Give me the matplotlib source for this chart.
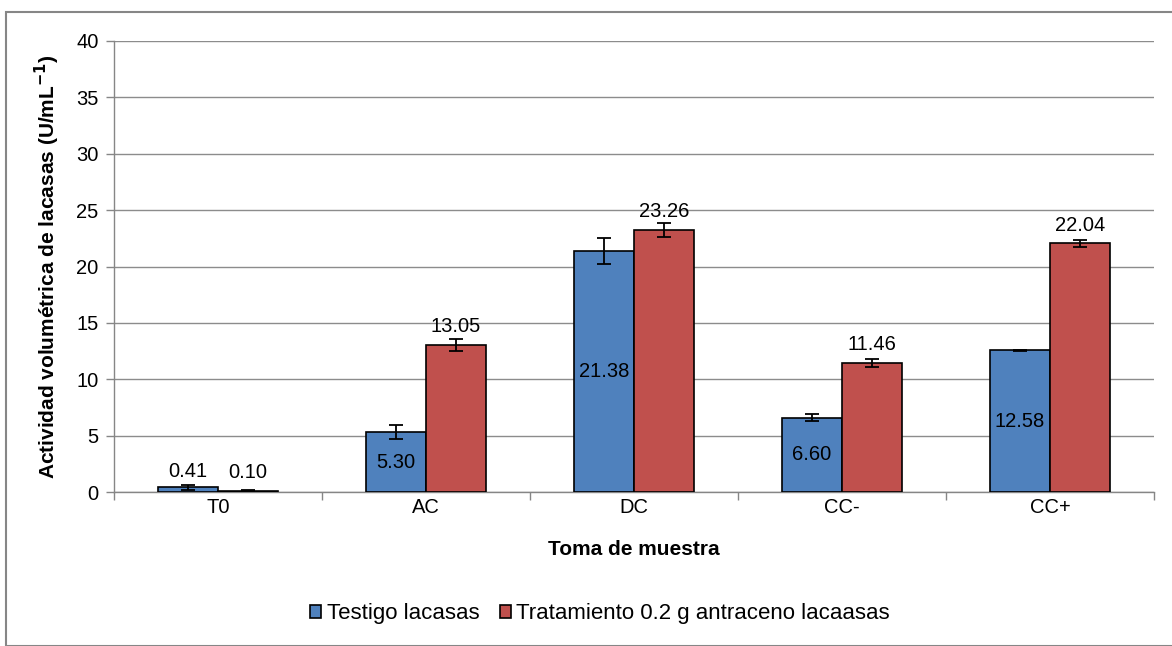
import matplotlib
matplotlib.use("Agg")
import matplotlib.pyplot as plt
from matplotlib.patches import Rectangle
import numpy as np

plt.rcParams['font.family'] = ['Liberation Sans', 'DejaVu Sans']

categories = ["T0", "AC", "DC", "CC-", "CC+"]
testigo = [0.41, 5.30, 21.38, 6.60, 12.58]
testigo_err = [0.2, 0.6, 1.15, 0.3, 0.05]
tratamiento = [0.10, 13.05, 23.26, 11.46, 22.04]
tratamiento_err = [0.05, 0.55, 0.6, 0.35, 0.3]
series_names = ["Testigo lacasas", "Tratamiento 0.2 g antraceno lacaasas"]
yticks = [0, 5, 10, 15, 20, 25, 30, 35, 40]

W, H = 1172, 646
fig = plt.figure(figsize=(W/100, H/100), dpi=100)
ax = fig.add_axes([114/W, 1-492/H, 1040/W, (492-41)/H])

x = np.arange(len(categories))
bw = 0.288
blue = "#4F81BD"
red = "#C0504D"
ax.bar(x - bw/2, testigo, bw, color=blue, edgecolor="black", linewidth=1.2, zorder=3,
       label=series_names[0])
ax.bar(x + bw/2, tratamiento, bw, color=red, edgecolor="black", linewidth=1.2, zorder=3,
       label=series_names[1])
ax.errorbar(x - bw/2, testigo, yerr=testigo_err, fmt="none", ecolor="black",
            elinewidth=1.3, capsize=5, capthick=1.3, zorder=4)
ax.errorbar(x + bw/2, tratamiento, yerr=tratamiento_err, fmt="none", ecolor="black",
            elinewidth=1.3, capsize=5, capthick=1.3, zorder=4)

fs = 14.5
for i, v in enumerate(testigo):
    if v < 2:
        ax.text(x[i] - bw/2, v + testigo_err[i] + 0.35, f"{v:.2f}", ha="center", va="bottom", fontsize=fs)
    else:
        ax.text(x[i] - bw/2, v/2, f"{v:.2f}", ha="center", va="center", fontsize=fs)
for i, v in enumerate(tratamiento):
    ax.text(x[i] + bw/2, v + 0.75, f"{v:.2f}", ha="center", va="bottom", fontsize=fs)

ax.set_xlim(-0.5, len(categories) - 0.5)
ax.set_ylim(0, 40)
ax.set_yticks(yticks)
ax.set_yticklabels([str(t) for t in yticks], fontsize=fs)
ax.set_xticks(x)
ax.set_xticklabels(categories, fontsize=fs)
ax.tick_params(axis="x", which="major", length=0, pad=4)
ax.set_xticks(np.arange(-0.5, len(categories)), minor=True)
ax.tick_params(axis="x", which="minor", length=6, color="#868686", width=1)
ax.tick_params(axis="y", length=6, color="#868686", width=1, pad=5)
ax.grid(axis="y", color="#8c8c8c", linewidth=1, zorder=0)
for s in ["top", "right"]:
    ax.spines[s].set_visible(False)
for s in ["left", "bottom"]:
    ax.spines[s].set_color("#868686")
    ax.spines[s].set_linewidth(1)

ax.set_xlabel("Toma de muestra", fontsize=15, fontweight="bold", labelpad=17)
ax.set_ylabel("Actividad volumétrica de lacasas (U/mL$^{\\mathbf{-1}}$)", fontsize=15,
              fontweight="bold", labelpad=10)

leg = fig.legend(loc="center", bbox_to_anchor=(600/W, 1-614/H), ncol=2, frameon=False,
                 fontsize=16, handlelength=0.5, handleheight=0.5, handletextpad=0.25,
                 columnspacing=0.9)

fig.patches.append(Rectangle((6/W, 0), 1.2, 1-12/H, transform=fig.transFigure,
                             fill=False, edgecolor="#868686", linewidth=1.5))

fig.savefig("out.png", dpi=100)
